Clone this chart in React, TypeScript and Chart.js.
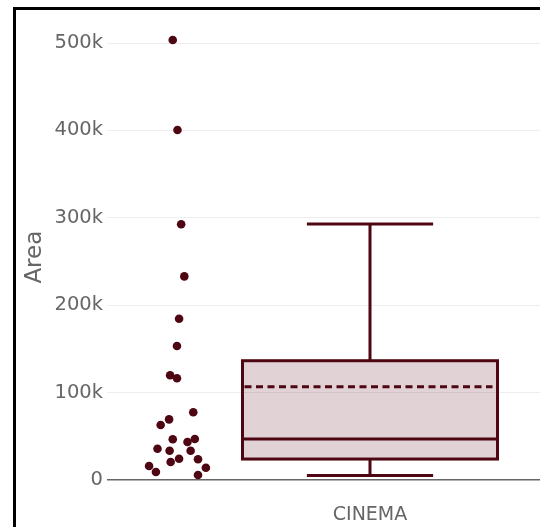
import React, { useEffect, useRef } from 'react';
import { Chart, registerables } from 'chart.js';

Chart.register(...registerables);

// ---- data ----
const categories = ['CINEMA'];
const areaValues = [
  503400, 400500, 292600, 233000, 184600, 153300, 119800, 116400,
  77500, 69400, 62900, 46600, 43500, 46900, 35800, 33500, 33500,
  24400, 20600, 23700, 16000, 9200, 14100, 5700,
];
// horizontal jitter of each point (in category units, relative to category centre)
const jitter = [
  -0.375, -0.366, -0.359, -0.353, -0.363, -0.367, -0.380, -0.367,
  -0.336, -0.382, -0.398, -0.375, -0.347, -0.333, -0.404, -0.381, -0.341,
  -0.363, -0.379, -0.327, -0.420, -0.407, -0.312, -0.327,
];
const lowerFence = [5300];
const q1 = [24000];
const median = [46900];
const mean = [106800];
const q3 = [136500];
const upperFence = [293000];
const yTicks = [0, 100000, 200000, 300000, 400000, 500000];
const yTickLabels = ['0', '100k', '200k', '300k', '400k', '500k'];
const yTitle = 'Area';

const MAROON = '#4e0612';
const FILL = 'rgba(82,8,20,0.18)';
const TEXT = '#666';
const FONT = "'DejaVu Sans', Verdana, sans-serif";

const boxPlugin = {
  id: 'boxDraw',
  beforeDatasetsDraw(chart: any) {
    const { ctx } = chart;
    const xs = chart.scales.x;
    const ys = chart.scales.y;
    const boxHalf = 0.2424;
    const capHalf = 0.12;
    categories.forEach((_, i) => {
      const xl = xs.getPixelForValue(i - boxHalf);
      const xr = xs.getPixelForValue(i + boxHalf);
      const xc = xs.getPixelForValue(i);
      const cl = xs.getPixelForValue(i - capHalf);
      const cr = xs.getPixelForValue(i + capHalf);
      const yq1 = ys.getPixelForValue(q1[i]);
      const yq3 = ys.getPixelForValue(q3[i]);
      const ymed = ys.getPixelForValue(median[i]);
      const ymean = ys.getPixelForValue(mean[i]);
      const ylo = ys.getPixelForValue(lowerFence[i]);
      const yhi = ys.getPixelForValue(upperFence[i]);
      ctx.save();
      ctx.fillStyle = FILL;
      ctx.fillRect(xl, yq3, xr - xl, yq1 - yq3);
      ctx.strokeStyle = MAROON;
      ctx.lineWidth = 3;
      ctx.strokeRect(xl, yq3, xr - xl, yq1 - yq3);
      ctx.beginPath();
      ctx.moveTo(xl, ymed);
      ctx.lineTo(xr, ymed);
      // whiskers
      ctx.moveTo(xc, yq3);
      ctx.lineTo(xc, yhi);
      ctx.moveTo(cl, yhi);
      ctx.lineTo(cr, yhi);
      ctx.moveTo(xc, yq1);
      ctx.lineTo(xc, ylo);
      ctx.moveTo(cl, ylo);
      ctx.lineTo(cr, ylo);
      ctx.stroke();
      ctx.beginPath();
      ctx.setLineDash([7, 4.5]);
      ctx.moveTo(xl + 2, ymean);
      ctx.lineTo(xr - 5, ymean);
      ctx.stroke();
      ctx.restore();
    });
  },
};

export default function App() {
  const ref = useRef<HTMLCanvasElement>(null);
  useEffect(() => {
    if (!ref.current) return;
    const chart = new Chart(ref.current, {
      type: 'scatter',
      data: {
        datasets: [
          {
            label: categories[0],
            data: areaValues.map((v, i) => ({ x: jitter[i], y: v })),
            pointRadius: 4.3,
            pointBackgroundColor: MAROON,
            pointBorderWidth: 0,
            pointHoverRadius: 4.3,
          },
        ],
      },
      options: {
        animation: false,
        responsive: false,
        maintainAspectRatio: false,
        events: [],
        layout: { padding: { top: 16.8, right: 7, bottom: 0, left: 0 } },
        plugins: { legend: { display: false }, tooltip: { enabled: false } },
        scales: {
          x: {
            type: 'linear',
            min: -0.5,
            max: 0.5,
            grid: { display: false },
            border: { display: false },
            afterBuildTicks: (s: any) => {
              s.ticks = categories.map((_, i) => ({ value: i }));
            },
            afterFit: (s: any) => {
              s.height = 29.5;
            },
            ticks: {
              padding: -2,
              color: TEXT,
              font: { family: FONT, size: 19 },
              callback: (v: any) => categories[Math.round(Number(v))] ?? '',
              maxRotation: 0,
            },
          },
          y: {
            type: 'linear',
            min: -20000,
            max: 530000,
            border: { display: false },
            grid: {
              drawTicks: false,
              color: (c: any) => (c.tick && c.tick.value === 0 ? '#666' : '#eeeeee'),
              lineWidth: (c: any) => (c.tick && c.tick.value === 0 ? 1.5 : 1),
            },
            afterBuildTicks: (s: any) => {
              s.ticks = yTicks.map((v) => ({ value: v }));
            },
            afterFit: (s: any) => {
              s.width = 107;
            },
            ticks: {
              padding: 4,
              color: TEXT,
              font: { family: FONT, size: 19.5 },
              callback: (v: any) => {
                const idx = yTicks.indexOf(Number(v));
                return idx >= 0 ? yTickLabels[idx] : '';
              },
            },
            title: {
              display: true,
              text: yTitle,
              color: TEXT,
              font: { family: FONT, size: 23 },
              padding: { top: 21, bottom: 0 },
            },
          },
        },
      },
      plugins: [boxPlugin],
    });
    return () => chart.destroy();
  }, []);

  return (
    <div
      style={{
        position: 'fixed',
        left: 0,
        top: 0,
        width: 540,
        height: 527,
        overflow: 'hidden',
        background: '#fff',
      }}
    >
      <canvas ref={ref} width={640} height={527} style={{ position: 'absolute', left: 0, top: 0, display: 'block' }} />
      <div
        style={{
          position: 'absolute',
          left: 13,
          top: 7,
          width: 700,
          height: 700,
          border: '3px solid #000',
          pointerEvents: 'none',
        }}
      />
    </div>
  );
}
